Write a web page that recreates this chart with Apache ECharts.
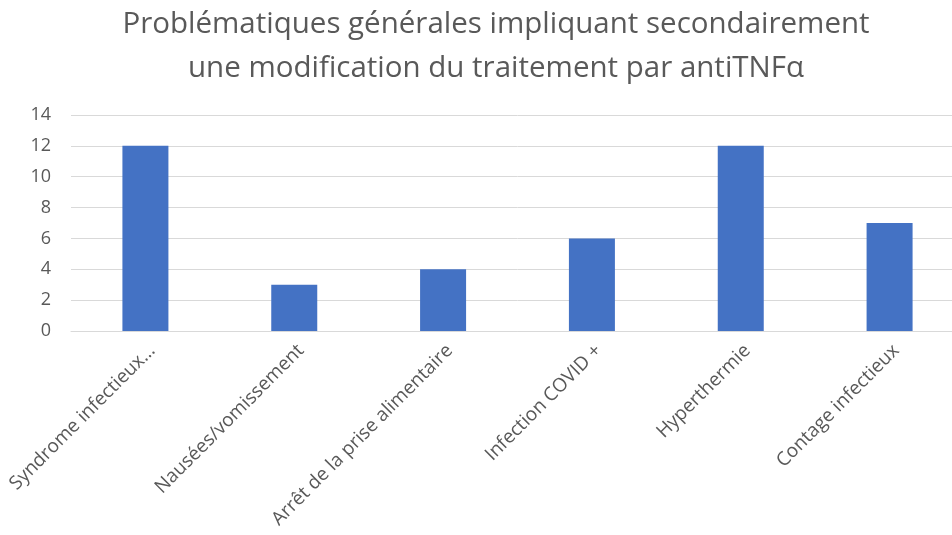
<!DOCTYPE html>
<html><head><meta charset="utf-8">
<script src="https://cdn.jsdelivr.net/npm/echarts@6/dist/echarts.min.js"></script>
<style>html,body{margin:0;padding:0;background:#fff;overflow:hidden;width:952px;height:535px}#c{width:964px;height:535px}</style>
</head><body><div id="c"></div>
<script>
const titleLines = ['Problématiques générales impliquant secondairement', 'une modification du traitement par antiTNFα'];
const categories = ['Syndrome infectieux…', 'Nausées/vomissement', 'Arrêt de la prise alimentaire', 'Infection COVID +', 'Hyperthermie', 'Contage infectieux'];
const values = [12, 3, 4, 6, 12, 7];
const yTicks = {min: 0, max: 14, interval: 2};

const chart = echarts.init(document.getElementById('c'), null, {renderer: 'canvas'});
chart.setOption({
  animation: false,
  backgroundColor: '#fff',
  title: {
    text: titleLines.join('\n'),
    left: 491,
    textAlign: 'center',
    top: -2,
    textStyle: {fontFamily: 'Open Sans', fontSize: 29.5, fontWeight: 'normal', color: '#595959', lineHeight: 44}
  },
  grid: {left: 71, right: 0, top: 115, bottom: 204, containLabel: false},
  xAxis: {
    type: 'category',
    data: categories,
    axisLine: {show: true, lineStyle: {color: '#d9d9d9', width: 1}},
    axisTick: {show: false},
    axisLabel: {rotate: 45, interval: 0, fontFamily: 'Open Sans', fontSize: 19, color: '#595959', margin: 10, verticalAlign: 'top'}
  },
  yAxis: {
    type: 'value',
    min: yTicks.min, max: yTicks.max, interval: yTicks.interval,
    axisLine: {show: false},
    axisTick: {show: false},
    splitLine: {lineStyle: {color: '#d9d9d9', width: 1}},
    axisLabel: {fontFamily: 'Open Sans', fontSize: 18, color: '#595959', margin: 20}
  },
  series: [{
    type: 'bar',
    data: values,
    barWidth: 46,
    itemStyle: {color: '#4472c4'}
  }]
});
</script></body></html>
